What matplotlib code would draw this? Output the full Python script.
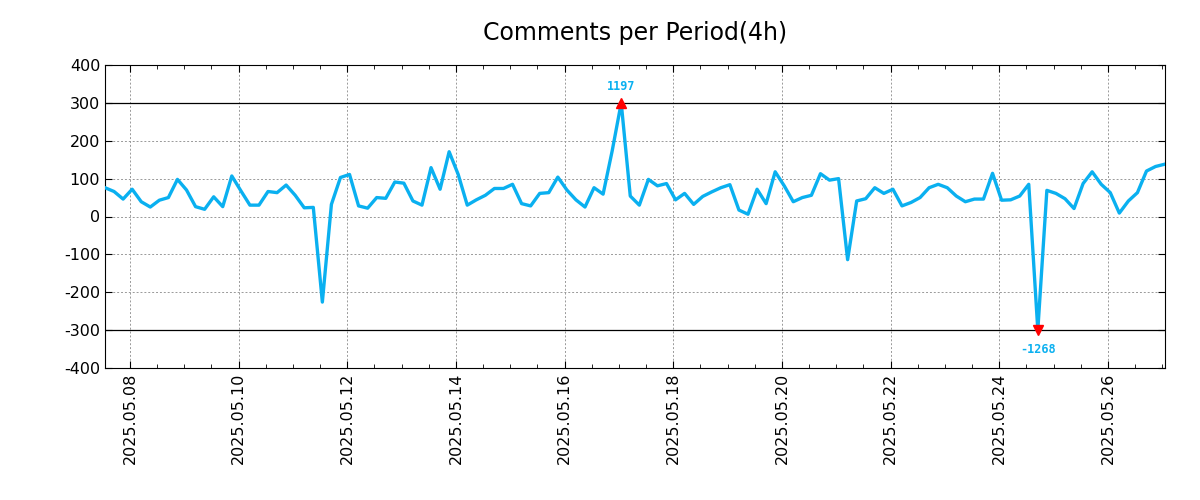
from matplotlib import pyplot as plt
import matplotlib.dates as mdates
import numpy as np
import pandas as pd

# 4h periods, 2025.05.07 13:00 .. 2025.05.27 01:00
start = '2025-05-07 13:00'
counts = [
	76, 66, 46, 72, 39, 25, 43, 50, 98, 70,
	26, 19, 52, 26, 107, 68, 30, 30, 66, 63,
	83, 56, 23, 24, -226, 32, 103, 111, 28, 22,
	50, 48, 91, 88, 41, 30, 129, 72, 171, 111,
	30, 44, 56, 74, 74, 85, 34, 28, 61, 63,
	104, 70, 44, 25, 76, 59, 173, 1197, 54, 30,
	98, 81, 87, 44, 61, 32, 53, 65, 76, 84,
	17, 6, 72, 34, 118, 81, 39, 50, 56, 113,
	96, 100, -114, 41, 47, 76, 61, 72, 28, 37,
	50, 76, 85, 76, 54, 39, 46, 46, 114, 43,
	44, 54, 85, -1268, 69, 61, 47, 21, 87, 118,
	85, 63, 9, 41, 63, 120, 132, 138,
]
limit = 300
y_ticks = [-400, -300, -200, -100, 0, 100, 200, 300, 400]

color = '#0AB0F0'
plt.rcParams['axes.unicode_minus'] = False

times = pd.date_range(start, periods=len(counts), freq='4h')
values = np.array(counts)
clipped = np.clip(values, -limit, limit)

fig = plt.figure(figsize=(12, 5), dpi=100)
ax = fig.add_axes([0.0875, 0.264, 0.883, 0.606])

ax.plot(times, clipped, color=color, linewidth=2.4, zorder=3)
ax.axhline(limit, color='black', linewidth=0.9, zorder=2)
ax.axhline(-limit, color='black', linewidth=0.9, zorder=2)

i_max = int(np.argmax(values))
i_min = int(np.argmin(values))
ax.plot(times[i_max], limit, marker='^', color='red', markersize=7, zorder=4)
ax.plot(times[i_min], -limit, marker='v', color='red', markersize=7, zorder=4)
ax.annotate(str(values[i_max]), (times[i_max], limit), xytext=(0, 7), textcoords='offset points',
	ha='center', va='bottom', color=color, fontsize=8.5, fontweight='bold', family='DejaVu Sans Mono')
ax.annotate(str(values[i_min]), (times[i_min], -limit), xytext=(0, -9), textcoords='offset points',
	ha='center', va='top', color=color, fontsize=8.5, fontweight='bold', family='DejaVu Sans Mono')

ax.set_xlim(times[0], times[-1])
ax.set_ylim(-400, 400)
ax.set_yticks(y_ticks)
ax.xaxis.set_major_locator(mdates.DayLocator(bymonthday=range(2, 32, 2)))
ax.xaxis.set_minor_locator(mdates.HourLocator(byhour=[0, 12]))
ax.xaxis.set_major_formatter(mdates.DateFormatter('%Y.%m.%d'))
plt.setp(ax.get_xticklabels(), rotation=90)

ax.grid(True, which='major', linestyle=(0, (2, 2)), color='#999999', linewidth=0.7)
ax.tick_params(which='both', direction='in', top=True, right=True, labelsize=11.5)
ax.tick_params(which='major', length=5)
ax.tick_params(which='minor', length=3)

fig.suptitle('Comments per Period(4h)', fontsize=17, x=0.529, y=0.958)

fig.savefig('out.png')
